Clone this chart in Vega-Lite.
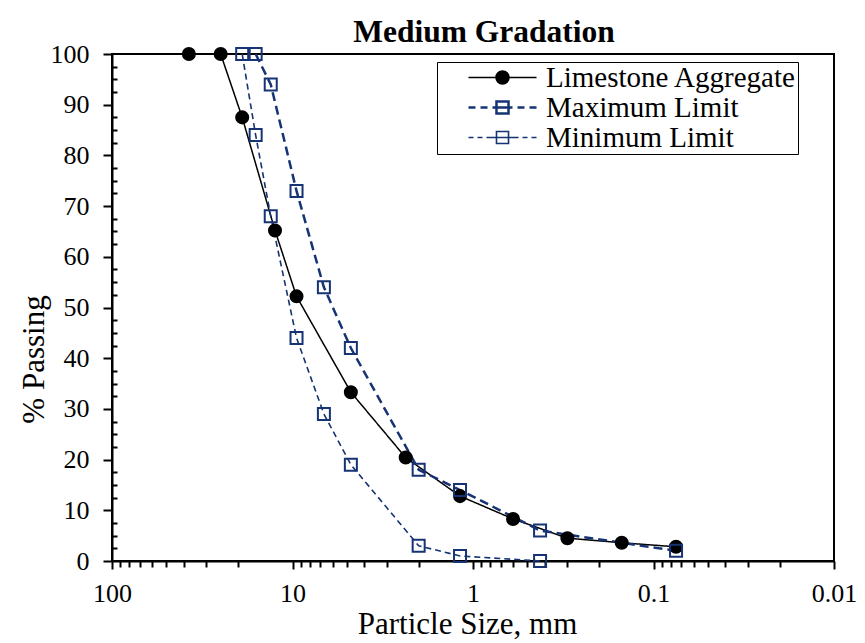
{
  "$schema": "https://vega.github.io/schema/vega-lite/v6.json",
  "autosize": {"type": "none"},
  "padding": {"left": 112, "top": 54, "right": 31, "bottom": 82},
  "width": 722,
  "height": 507,
  "background": "white",
  "config": {
    "font": "Liberation Serif",
    "view": {"stroke": "black", "strokeWidth": 2},
    "axis": {
      "domainColor": "black",
      "domainWidth": 2,
      "tickColor": "black",
      "tickWidth": 2,
      "labelColor": "black",
      "labelFont": "Liberation Serif",
      "labelFontSize": 26,
      "titleFont": "Liberation Serif",
      "titleFontSize": 31,
      "titleFontWeight": "normal",
      "titleColor": "black",
      "grid": false
    }
  },
  "title": {
    "text": "Medium Gradation",
    "font": "Liberation Serif",
    "fontSize": 31.5,
    "fontWeight": "bold",
    "color": "black",
    "anchor": "middle",
    "frame": "group",
    "dx": 11,
    "offset": -32,
    "baseline": "alphabetic"
  },
  "data": {
    "values": [
      {"series": "Limestone Aggregate", "size": 37.5, "passing": 100},
      {"series": "Limestone Aggregate", "size": 25, "passing": 100},
      {"series": "Limestone Aggregate", "size": 19, "passing": 87.5},
      {"series": "Limestone Aggregate", "size": 12.5, "passing": 65.2},
      {"series": "Limestone Aggregate", "size": 9.5, "passing": 52.2},
      {"series": "Limestone Aggregate", "size": 4.75, "passing": 33.3},
      {"series": "Limestone Aggregate", "size": 2.36, "passing": 20.4},
      {"series": "Limestone Aggregate", "size": 1.18, "passing": 12.8},
      {"series": "Limestone Aggregate", "size": 0.6, "passing": 8.3},
      {"series": "Limestone Aggregate", "size": 0.3, "passing": 4.5},
      {"series": "Limestone Aggregate", "size": 0.15, "passing": 3.6},
      {"series": "Limestone Aggregate", "size": 0.075, "passing": 2.8},
      {"series": "Maximum Limit", "size": 16, "passing": 100},
      {"series": "Maximum Limit", "size": 13.2, "passing": 94},
      {"series": "Maximum Limit", "size": 9.5, "passing": 73},
      {"series": "Maximum Limit", "size": 6.7, "passing": 54},
      {"series": "Maximum Limit", "size": 4.75, "passing": 42},
      {"series": "Maximum Limit", "size": 2, "passing": 18},
      {"series": "Maximum Limit", "size": 1.18, "passing": 14},
      {"series": "Maximum Limit", "size": 0.425, "passing": 6},
      {"series": "Maximum Limit", "size": 0.075, "passing": 2},
      {"series": "Minimum Limit", "size": 19, "passing": 100},
      {"series": "Minimum Limit", "size": 16, "passing": 84},
      {"series": "Minimum Limit", "size": 13.2, "passing": 68},
      {"series": "Minimum Limit", "size": 9.5, "passing": 44},
      {"series": "Minimum Limit", "size": 6.7, "passing": 29},
      {"series": "Minimum Limit", "size": 4.75, "passing": 19},
      {"series": "Minimum Limit", "size": 2, "passing": 3},
      {"series": "Minimum Limit", "size": 1.18, "passing": 1},
      {"series": "Minimum Limit", "size": 0.425, "passing": 0}
    ]
  },
  "layer": [
    {
      "mark": {"type": "line", "clip": false},
      "encoding": {
        "x": {
          "field": "size", "type": "quantitative",
          "scale": {"type": "log", "domain": [0.01, 100], "reverse": true, "nice": false},
          "axis": {
            "orient": "bottom",
            "values": [90, 80, 70, 60, 50, 40, 30, 20, 9, 8, 7, 6, 5, 4, 3, 2, 0.9, 0.8, 0.7, 0.6, 0.5, 0.4, 0.3, 0.2, 0.09, 0.08, 0.07, 0.06, 0.05, 0.04, 0.03, 0.02],
            "tickSize": 6, "labels": false, "domain": false, "title": null, "grid": false
          }
        },
        "y": {
          "field": "passing", "type": "quantitative",
          "scale": {"domain": [0, 100], "nice": false},
          "axis": {
            "orient": "left",
            "values": [2.5, 5, 7.5, 12.5, 15, 17.5, 22.5, 25, 27.5, 32.5, 35, 37.5, 42.5, 45, 47.5, 52.5, 55, 57.5, 62.5, 65, 67.5, 72.5, 75, 77.5, 82.5, 85, 87.5, 92.5, 95, 97.5],
            "tickSize": -5, "labels": false, "domain": false, "title": null, "grid": false
          }
        },
        "detail": {"field": "series", "type": "nominal"},
        "stroke": {
          "condition": {"test": "datum.series === 'Limestone Aggregate'", "value": "black"},
          "value": "#163374"
        },
        "strokeDash": {
          "condition": [
            {"test": "datum.series === 'Limestone Aggregate'", "value": [1, 0]},
            {"test": "datum.series === 'Maximum Limit'", "value": [9, 5]}
          ],
          "value": [6, 4]
        },
        "strokeWidth": {
          "condition": [
            {"test": "datum.series === 'Limestone Aggregate'", "value": 1.5},
            {"test": "datum.series === 'Maximum Limit'", "value": 2.5}
          ],
          "value": 1.6
        }
      }
    },
    {
      "mark": {"type": "point", "strokeWidth": 2, "opacity": 1, "clip": false},
      "encoding": {
        "x": {
          "field": "size", "type": "quantitative",
          "axis": {
            "orient": "bottom",
            "values": [100, 10, 1, 0.1, 0.01],
            "format": "~g",
            "tickSize": 8,
            "labelPadding": 11,
            "labelFlush": false,
            "labelOverlap": false,
            "title": "Particle Size, mm",
            "titleX": 355,
            "titleY": 72,
            "titleBaseline": "alphabetic"
          }
        },
        "y": {
          "field": "passing", "type": "quantitative",
          "axis": {
            "orient": "left",
            "values": [0, 10, 20, 30, 40, 50, 60, 70, 80, 90, 100],
            "tickSize": 9,
            "labelPadding": 14,
            "labelOverlap": false,
            "title": "% Passing",
            "titleAngle": 270,
            "titleX": -69,
            "titleY": 305,
            "titleBaseline": "alphabetic"
          }
        },
        "shape": {
          "condition": {"test": "datum.series === 'Limestone Aggregate'", "value": "circle"},
          "value": "square"
        },
        "size": {
          "condition": {"test": "datum.series === 'Limestone Aggregate'", "value": 145},
          "value": 144
        },
        "fill": {
          "condition": {"test": "datum.series === 'Limestone Aggregate'", "value": "black"},
          "value": "transparent"
        },
        "stroke": {
          "condition": {"test": "datum.series === 'Limestone Aggregate'", "value": "black"},
          "value": "#163374"
        }
      }
    },
    {
      "transform": [{"filter": "false"}],
      "mark": {"type": "point", "filled": false, "opacity": 1},
      "encoding": {
        "x": {"field": "size", "type": "quantitative", "axis": null},
        "y": {"field": "passing", "type": "quantitative", "axis": null},
        "shape": {
          "field": "series", "type": "nominal",
          "scale": {
            "domain": ["Limestone Aggregate", "Maximum Limit", "Minimum Limit"],
            "range": [
              "M-4.86,0H4.86M0.93,0A0.93,0.93,0,1,1,-0.93,0A0.93,0.93,0,1,1,0.93,0Z",
              "M-4.86,0H-3.86M-3.14,0H-2.14M-1.43,0H1.43M2.14,0H3.14M3.86,0H4.86M-0.86,-0.86H0.86V0.86H-0.86Z",
              "M-4.86,0H-4.14M-3.57,0H-2.86M-2.29,0H2.29M2.86,0H3.57M4.14,0H4.86M-0.86,-0.86H0.86V0.86H-0.86Z"
            ]
          },
          "legend": {
            "orient": "none",
            "legendX": 325,
            "legendY": 8,
            "title": null,
            "padding": 1,
            "fillColor": "white",
            "strokeColor": "black",
            "labelFont": "Liberation Serif",
            "labelFontSize": 29,
            "labelColor": "black",
            "labelLimit": 0,
            "symbolSize": 196,
            "symbolOffset": 50,
            "labelOffset": 29,
            "rowPadding": 0,
            "encode": {"legend": {"update": {"strokeWidth": {"value": 2}, "width": {"value": 381}, "height": {"value": 86}}}}
          }
        },
        "stroke": {
          "field": "series", "type": "nominal",
          "scale": {"domain": ["Limestone Aggregate", "Maximum Limit", "Minimum Limit"], "range": ["black", "#163374", "#163374"]}
        },
        "fill": {
          "field": "series", "type": "nominal",
          "scale": {"domain": ["Limestone Aggregate", "Maximum Limit", "Minimum Limit"], "range": ["black", "white", "white"]}
        },
        "strokeWidth": {
          "field": "series", "type": "nominal",
          "scale": {"type": "ordinal", "domain": ["Limestone Aggregate", "Maximum Limit", "Minimum Limit"], "range": [1.5, 2.5, 1.6]}
        }
      }
    }
  ],
  "resolve": {"axis": {"x": "independent", "y": "independent"}}
}
